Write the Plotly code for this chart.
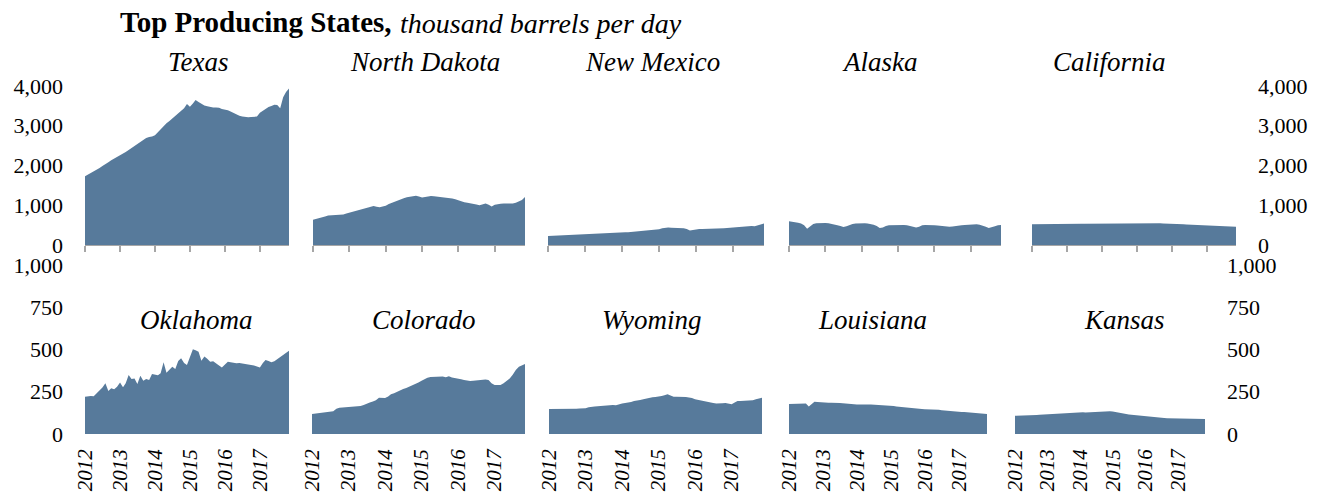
import pandas as pd
import plotly.graph_objects as go

# ---- data (thousand barrels per day), monthly Jan 2012 - Nov 2017 ----
months = pd.date_range("2012-01-01", "2017-11-01", freq="MS")
year_ticks = ["2012", "2013", "2014", "2015", "2016", "2017"]

texas = [1730,1770,1810,1860,1900,1940,1990,2030,2080,2130,2170,2210,
         2250,2290,2340,2390,2440,2490,2550,2600,2650,2690,2720,2730,
         2760,2840,2920,3000,3060,3120,3180,3260,3320,3380,3440,3550,
         3480,3560,3650,3600,3550,3510,3490,3470,3460,3460,3450,3420,
         3410,3390,3360,3320,3280,3250,3230,3220,3215,3220,3225,3230,
         3330,3380,3420,3470,3500,3530,3520,3440,3720,3850,3940]
north_dakota = [633,650,670,690,715,740,745,750,755,760,770,790,
                810,830,850,870,895,920,945,965,979,960,950,970,
                990,1030,1060,1090,1120,1150,1175,1200,1215,1230,1240,1220,
                1198,1210,1225,1230,1225,1215,1210,1205,1200,1190,1170,1150,
                1120,1090,1075,1060,1050,1040,1020,1000,1020,1045,1010,970,
                1010,1035,1040,1045,1040,1035,1045,1060,1090,1130,1207]
new_mexico = [225,228,232,236,240,244,248,251,254,257,260,262,
              264,268,272,276,280,284,288,292,296,300,305,310,
              314,318,322,328,334,340,346,352,358,364,372,380,
              395,420,438,440,436,432,428,425,424,400,365,375,
              395,405,405,405,404,405,407,410,415,420,430,440,
              447,450,455,460,470,480,478,472,490,525,540]
alaska = [600,590,578,560,540,500,410,460,530,549,555,560,
          555,550,540,525,500,480,450,470,510,530,540,545,
          545,545,540,530,510,480,425,440,480,495,500,505,
          510,508,505,500,480,455,440,460,500,505,508,506,
          500,490,480,470,465,460,465,480,495,500,505,510,
          520,523,520,510,490,460,425,440,470,495,506]
california = [520,522,523,524,525,525,526,527,528,529,530,530,
              530,531,532,533,534,535,536,537,538,539,540,541,
              542,543,544,545,546,547,548,549,550,551,552,552,
              552,552,551,550,549,548,547,546,545,544,543,541,
              538,535,530,525,520,515,512,510,508,505,500,496,
              492,488,485,482,478,475,472,468,465,460,456]
oklahoma = [221,224,225,223,240,255,275,300,254,270,265,280,
            304,276,300,349,325,328,296,345,315,325,320,355,
            350,348,360,424,363,380,398,385,432,448,420,408,
            460,501,495,487,434,458,445,428,430,420,405,394,
            410,428,425,420,418,420,418,415,410,408,405,400,
            394,420,438,432,424,430,442,455,467,480,493]
colorado = [118,120,122,124,130,131,130,135,150,156,157,158,
            158,160,162,165,166,172,181,186,192,200,215,212,
            213,222,235,241,250,260,266,272,280,286,297,305,
            315,325,333,337,338,338,337,340,336,341,335,330,
            328,324,320,316,314,315,317,320,321,322,320,300,
            290,288,290,300,315,329,350,379,398,408,414]
wyoming = [148,148,147,147,146,146,146,147,148,150,151,152,
           152,158,162,163,164,166,168,170,172,171,170,176,
           180,183,185,190,195,200,201,205,210,214,217,219,
           221,225,230,235,228,221,220,221,221,219,216,213,
           205,201,197,193,187,184,183,181,180,182,183,180,
           176,186,195,196,196,196,197,200,205,210,215]
louisiana = [178,179,180,181,182,183,180,162,175,191,190,188,
             187,186,185,185,186,185,184,182,180,178,176,175,
             174,175,176,175,174,174,173,173,172,172,172,170,
             168,165,162,160,158,157,155,154,152,150,149,148,
             147,147,146,145,144,143,140,138,136,134,133,132,
             131,130,130,129,128,126,124,122,121,120,118]
kansas = [108,108,109,110,110,111,111,112,112,114,115,116,
          118,119,120,122,122,123,123,124,124,125,126,127,
          128,128,127,128,129,130,131,132,134,134,135,134,
          133,131,128,125,122,119,116,114,112,110,107,106,
          105,104,103,101,99,97,95,94,93,93,92,92,
          91,91,91,90,90,90,90,89,89,89,89]

top_states = ["Texas", "North Dakota", "New Mexico", "Alaska", "California"]
top_values = [texas, north_dakota, new_mexico, alaska, california]
bottom_states = ["Oklahoma", "Colorado", "Wyoming", "Louisiana", "Kansas"]
bottom_values = [oklahoma, colorado, wyoming, louisiana, kansas]
top_yticks = [0, 1000, 2000, 3000, 4000]
bottom_yticks = [0, 250, 500, 750, 1000]

# ---- layout (pixel geometry) ----
W, H = 1330, 493
FILL = "#577a9b"
SERIF = "Liberation Serif"

def fx(px):
    return px / W

def fy(py):
    return 1 - py / H

top_x = [(85, 289), (313, 525), (548, 764), (789, 1001), (1032, 1236)]
bot_x = [(85, 289), (312, 525), (549, 762), (789, 987), (1015, 1205)]
top_y = (245, 86)      # pixel of 0 and of 4000
bot_y = (434, 265)     # pixel of 0 and of 1000
top_title_x = [198, 425, 652, 880, 1109]
bot_title_x = [196, 424, 652, 872, 1124]

fig = go.Figure()
layout = dict(
    width=W, height=H,
    margin=dict(l=0, r=0, t=0, b=0),
    paper_bgcolor="white", plot_bgcolor="white",
    showlegend=False,
    font=dict(family=SERIF, color="black"),
)
annotations = []

xrange_ = [months[0], months[-1]]

def add_panel(i, name, vals, xdom, ydom, yrange, yticks, top, title_x, title_y):
    n = i + 1
    xa = "x" if n == 1 else f"x{n}"
    ya = "y" if n == 1 else f"y{n}"
    fig.add_trace(go.Scatter(
        x=months, y=vals, mode="lines", fill="tozeroy",
        line=dict(width=0, color=FILL), fillcolor=FILL,
        xaxis=xa, yaxis=ya, hoverinfo="skip"))
    xkey = "xaxis" if n == 1 else f"xaxis{n}"
    ykey = "yaxis" if n == 1 else f"yaxis{n}"
    xaxis = dict(
        domain=[fx(xdom[0]), fx(xdom[1])], anchor=ya,
        range=xrange_, type="date", tick0="2012-01-01", dtick="M12",
        tickformat="%Y", showgrid=False, zeroline=False, automargin=False,
        fixedrange=True,
    )
    if top:
        xaxis.update(ticks="outside", ticklen=6, tickwidth=2, tickcolor="#a6a6a6",
                     showline=True, linecolor="#a6a6a6", linewidth=1,
                     showticklabels=False)
    else:
        xaxis.update(ticks="", showline=False, showticklabels=True,
                     tickangle=-90, ticklabelstandoff=10,
                     tickfont=dict(family=SERIF, size=21, style="italic", color="black"))
    yaxis = dict(
        domain=[fy(ydom[0]), fy(ydom[1])], anchor=xa,
        range=yrange, tickvals=yticks, tickformat=",d",
        showgrid=False, zeroline=False, showline=False, ticks="",
        automargin=False, fixedrange=True,
        tickfont=dict(family=SERIF, size=22, color="black"),
        ticklabelstandoff=21,
    )
    if i % 5 == 0:
        yaxis.update(side="left", showticklabels=True)
    elif i % 5 == 4:
        yaxis.update(side="right", showticklabels=True)
    else:
        yaxis.update(showticklabels=False)
    layout[xkey] = xaxis
    layout[ykey] = yaxis
    annotations.append(dict(
        text=name, xref="paper", yref="paper", x=fx(title_x), y=fy(title_y),
        xanchor="center", yanchor="middle", showarrow=False,
        font=dict(family=SERIF, size=27, style="italic", color="black")))

for j, (name, vals) in enumerate(zip(top_states, top_values)):
    add_panel(j, name, vals, top_x[j], top_y, [0, 4000], top_yticks, True,
              top_title_x[j], 62)
for j, (name, vals) in enumerate(zip(bottom_states, bottom_values)):
    add_panel(j + 5, name, vals, bot_x[j], bot_y, [0, 1000], bottom_yticks, False,
              bot_title_x[j], 320)

annotations.append(dict(
    text="<b>Top Producing States,</b>", xref="paper", yref="paper",
    x=fx(118), y=fy(22), xanchor="left", yanchor="middle", showarrow=False,
    font=dict(family=SERIF, size=29, color="black")))
annotations.append(dict(
    text="<i>thousand barrels per day</i>", xref="paper", yref="paper",
    x=fx(398), y=fy(23), xanchor="left", yanchor="middle", showarrow=False,
    font=dict(family=SERIF, size=28, color="black")))

layout["annotations"] = annotations
fig.update_layout(**layout)
fig.write_html("out.html", config=dict(displayModeBar=False),
               post_script="document.body.style.margin='0';")
